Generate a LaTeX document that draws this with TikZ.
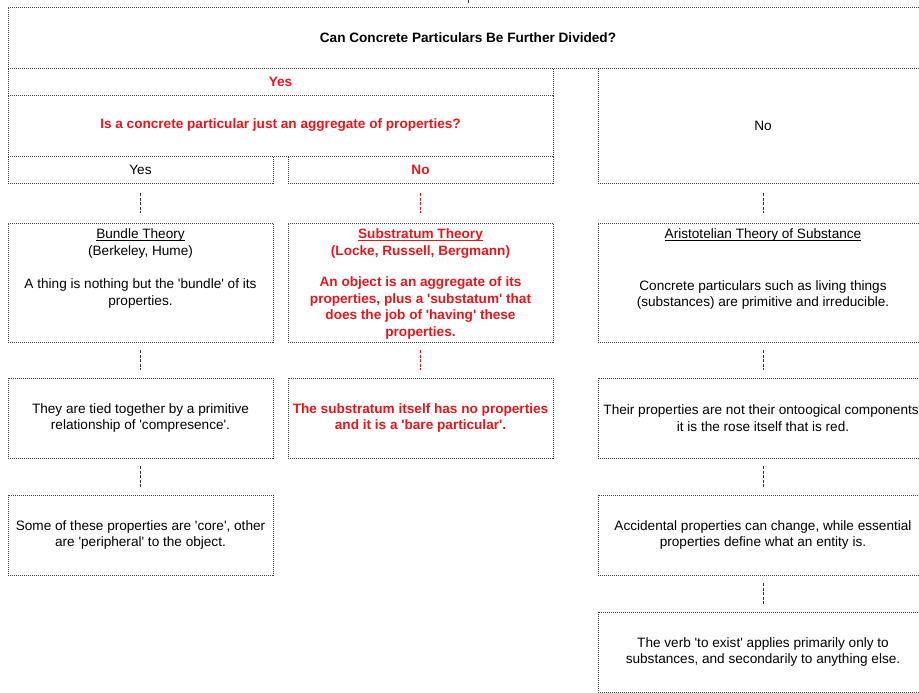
\documentclass[tikz,border=0pt]{standalone}
\usepackage{fontspec}
\setmainfont{Liberation Sans}[Ligatures=TeXOff]
\definecolor{answerred}{RGB}{232,22,28}
\newsavebox{\titlebox}
\newcommand{\titleline}[1]{\sbox{\titlebox}{#1}\rlap{\rule[-2pt]{\wd\titlebox}{0.7pt}}\usebox{\titlebox}}
\begin{document}
\begin{tikzpicture}[x=1pt, y=1pt,
    box/.style={draw=black!75, line width=0.7pt, dash pattern=on 1pt off 1pt, align=center, inner sep=0pt, font=\fontsize{13.6}{16.5}\selectfont},
    hot/.style={text=answerred, font=\fontsize{13.6}{16.5}\selectfont\bfseries},
    inside/.style={anchor=north, align=center, inner sep=0pt, font=\fontsize{13.6}{16.5}\selectfont},
    link/.style={draw=black!80, line width=1pt, dash pattern=on 3pt off 1.5pt, shorten <=8pt, shorten >=8pt}]
  \useasboundingbox (0,0) rectangle (919,693);
  \clip (0,0) rectangle (919,693);

  \node[box, minimum width=920pt, minimum height=61pt, font=\fontsize{13.6}{16.5}\selectfont\bfseries] (divided) at (468,655.5) {Can Concrete Particulars Be Further Divided?};
  \node[box, hot, minimum width=545pt, minimum height=27pt] (yes) at (280.5,611.5) {Yes};
  \node[box, hot, minimum width=545pt, minimum height=61pt] (aggregate) at (280.5,567.5) {Is a concrete particular just an aggregate of properties?};
  \node[box, minimum width=265pt, minimum height=27pt] (yesbundle) at (140.5,523.5) {Yes};
  \node[box, hot, minimum width=265pt, minimum height=27pt] (nosubstratum) at (420.5,523.5) {No};
  \node[box, minimum width=330pt, minimum height=115pt] (no) at (763,567.5) {No};

  \node[box, minimum width=265pt, minimum height=119pt] (bundle) at (140.5,410.5) {};
  \node[box, minimum width=265pt, minimum height=119pt] (substratum) at (420.5,410.5) {};
  \node[box, minimum width=330pt, minimum height=119pt] (aristotle) at (763,410.5) {};
  \node[inside] (bundletext) at ([yshift=-6pt]bundle.north) {\titleline{Bundle Theory}\\(Berkeley, Hume)\\[17pt]A thing is nothing but the 'bundle' of its\\properties.};
  \node[inside, hot] (substratumtext) at ([yshift=-6pt]substratum.north) {\titleline{Substratum Theory}\\(Locke, Russell, Bergmann)\\[15pt]An object is an aggregate of its\\properties, plus a 'substatum' that\\does the job of 'having' these\\properties.};
  \node[inside] (aristotletext) at ([yshift=-6pt]aristotle.north) {\titleline{Aristotelian Theory of Substance}\\[35pt]Concrete particulars such as living things\\(substances) are primitive and irreducible.};

  \node[box, minimum width=265pt, minimum height=80pt] (compresence) at (140.5,275) {They are tied together by a primitive\\relationship of 'compresence'.};
  \node[box, hot, minimum width=265pt, minimum height=80pt] (bare) at (420.5,275) {The substratum itself has no properties\\and it is a 'bare particular'.};
  \node[box, minimum width=330pt, minimum height=80pt] (rose) at (763,275) {Their properties are not their ontoogical components:\\it is the rose itself that is red.};

  \node[box, minimum width=265pt, minimum height=80pt] (core) at (140.5,158) {Some of these properties are 'core', other\\are 'peripheral' to the object.};
  \node[box, minimum width=330pt, minimum height=80pt] (accident) at (763,158) {Accidental properties can change, while essential\\properties define what an entity is.};

  \node[box, minimum width=330pt, minimum height=80pt] (exist) at (763,41) {The verb 'to exist' applies primarily only to\\substances, and secondarily to anything else.};

  \coordinate (above) at (468,703);
  \draw[link, shorten <=4pt, shorten >=0pt] (divided) -- (above);
  \draw[link, shorten <=10pt, shorten >=10pt] (yesbundle) -- (bundle);
  \draw[link, draw=answerred, shorten <=10pt, shorten >=10pt] (nosubstratum) -- (substratum);
  \draw[link, shorten <=10pt, shorten >=10pt] (no) -- (aristotle);
  \draw[link] (bundle) -- (compresence);
  \draw[link, draw=answerred] (substratum) -- (bare);
  \draw[link] (aristotle) -- (rose);
  \draw[link] (compresence) -- (core);
  \draw[link] (rose) -- (accident);
  \draw[link] (accident) -- (exist);
\end{tikzpicture}
\end{document}
